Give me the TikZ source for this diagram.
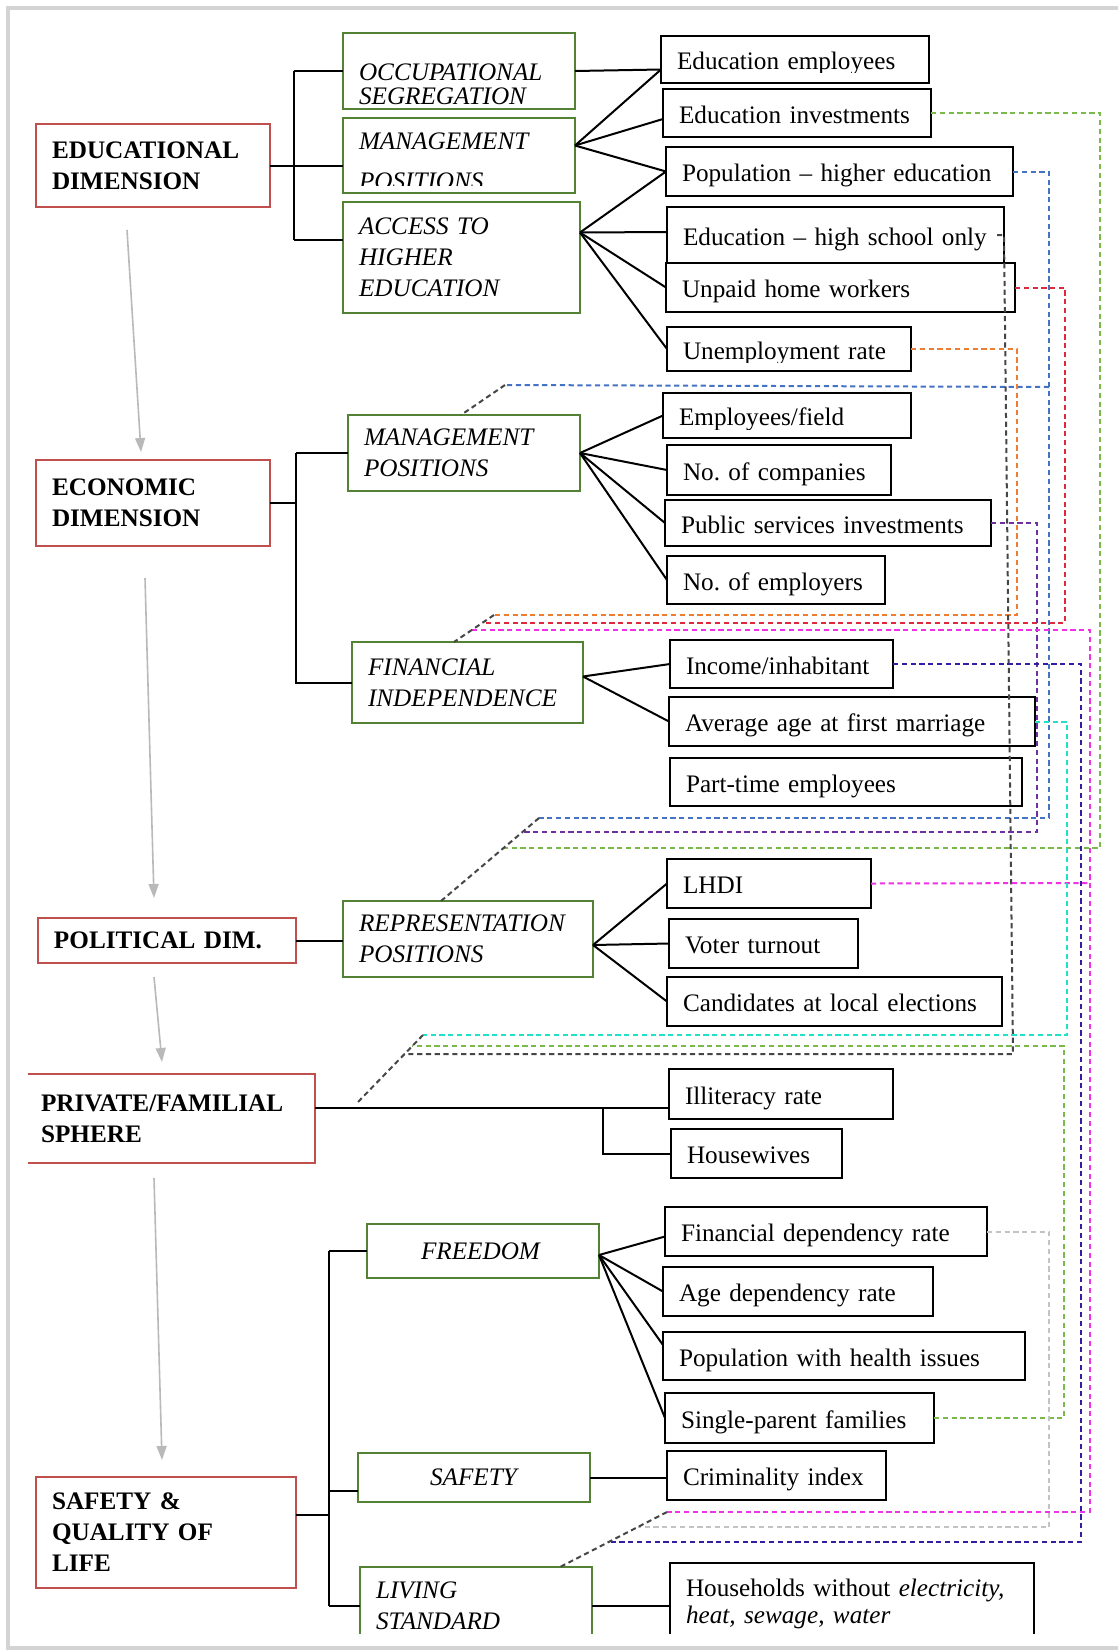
\documentclass[tikz,border=0pt]{standalone}
\usepackage{fontspec}
\setmainfont{Liberation Serif}
\usetikzlibrary{arrows.meta}
\definecolor{dimred}{RGB}{192,80,77}
\definecolor{catgreen}{RGB}{84,130,53}
\definecolor{frgray}{RGB}{212,212,212}
\definecolor{flgray}{RGB}{185,185,185}
\definecolor{cGreen}{RGB}{122,186,74}
\definecolor{cBlue}{RGB}{68,114,196}
\definecolor{cRed}{RGB}{222,40,60}
\definecolor{cOrange}{RGB}{237,125,49}
\definecolor{cDark}{RGB}{70,70,70}
\definecolor{cPurple}{RGB}{112,48,160}
\definecolor{cMagenta}{RGB}{240,50,230}
\definecolor{cIndigo}{RGB}{50,30,160}
\definecolor{cCyan}{RGB}{30,225,200}
\definecolor{cLight}{RGB}{195,195,195}
\newcommand\drawbox[7]{%
  \pgfmathsetmacro\bxw{(#4-#2)*0.5}%
  \pgfmathsetmacro\bxh{(#5-#3)*0.5}%
  \pgfmathsetmacro\bxt{(#4-#2)*0.5-16}%
  \node[#1, minimum width=\bxw pt, minimum height=\bxh pt, text width=\bxt pt] (#6) at ({(#2+#4)/2},{(#3+#5)/2}) {#7};}
\begin{document}
\begin{tikzpicture}[x=0.5pt,y=-0.5pt,
  base/.style={rectangle, inner xsep=8pt, inner ysep=0pt, outer sep=0pt, align=left, fill=white},
  dimbox/.style={base, draw=dimred, line width=1pt, font=\fontsize{12.6}{15.5}\selectfont\bfseries},
  dimopen/.style={base, draw=none, font=\fontsize{12.6}{15.5}\selectfont\bfseries},
  catbox/.style={base, draw=catgreen, line width=1pt, font=\fontsize{12.6}{15.5}\selectfont\itshape},
  indbox/.style={base, draw=black, line width=1.3pt, font=\fontsize{12.6}{15.5}\selectfont, text height=10pt, text depth=0pt},
  indtwo/.style={base, draw=black, line width=1.3pt, font=\fontsize{12.6}{13.5}\selectfont},
  link/.style={draw=black, line width=1pt},
  flow/.style={draw=flgray, line width=0.8pt, -{Triangle[width=5pt,length=7pt]}},
  dl/.style={line width=1pt, dash pattern=on 2.6pt off 1.8pt},
]
\useasboundingbox (0,0) rectangle (1118,1650);
\fill[white] (0,0) rectangle (1118,1650);
\draw[frgray, line width=2pt] (1130,8) -- (8,8) -- (8,1648) -- (1130,1648);

\begin{scope}
\clip (0,0) rectangle (1118,1633);
% ---------- dimension boxes ----------
\drawbox{dimbox}{36}{124}{270}{207}{eduDim}{EDUCATIONAL\\DIMENSION}
\drawbox{dimbox}{36}{460}{270}{546}{ecoDim}{ECONOMIC\\DIMENSION}
\drawbox{dimbox}{38}{918}{296}{963}{pol}{POLITICAL DIM.}
\drawbox{dimopen}{28}{1074}{315}{1163}{pri}{\hspace*{-1.5pt}PRIVATE/FAMILIAL\\\hspace*{-1.5pt}SPHERE}
\draw[dimred, line width=1pt] (pri.north west) -- (pri.north east) -- (pri.south east) -- (pri.south west);
\drawbox{dimbox}{36}{1477}{296}{1588}{sq}{SAFETY \&\\QUALITY OF\\LIFE}

% ---------- category boxes ----------
\drawbox{catbox, font=\fontsize{12.6}{12}\selectfont\itshape, text height=21pt, text depth=12pt}{343}{33}{575}{109}{occ}{OCCUPATIONAL\\SEGREGATION}
\drawbox{catbox, font=\fontsize{12.6}{20}\selectfont\itshape, text height=14pt, text depth=20pt}{343}{118}{575}{193}{mgmtE}{MANAGEMENT\\POSITIONS}
\drawbox{catbox}{343}{202}{580}{313}{acc}{ACCESS TO\\HIGHER\\EDUCATION}
\drawbox{catbox}{348}{415}{580}{491}{ecoMgmt}{MANAGEMENT\\POSITIONS}
\drawbox{catbox}{352}{642}{583}{723}{fin}{FINANCIAL\\INDEPENDENCE}
\drawbox{catbox}{343}{901}{593}{977}{rep}{REPRESENTATION\\POSITIONS}
\drawbox{catbox}{367}{1224}{599}{1278}{free}{\hspace*{19pt}FREEDOM}
\drawbox{catbox}{358}{1453}{590}{1502}{saf}{\hspace*{28pt}SAFETY}
\drawbox{catbox}{360}{1567}{592}{1645}{liv}{LIVING\\STANDARD}

% ---------- indicator boxes ----------
\drawbox{indbox}{661}{36}{929}{83}{edEmp}{Education employees}
\drawbox{indbox}{663}{89}{931}{137}{eInv}{Education investments}
\drawbox{indbox}{666}{147}{1013}{196}{popH}{Population -- higher education}
\drawbox{indbox}{667}{207}{1004}{263}{hs}{Education -- high school only}
\drawbox{indbox}{666}{263}{1015}{312}{unpaid}{Unpaid home workers}
\drawbox{indbox}{667}{327}{911}{371}{unemp}{Unemployment rate}
\drawbox{indbox}{663}{393}{911}{438}{empF}{Employees/field}
\drawbox{indbox}{667}{445}{891}{495}{comp}{No.\ of companies}
\drawbox{indbox}{665}{500}{991}{546}{pubS}{Public services investments}
\drawbox{indbox}{667}{556}{885}{604}{empl}{No.\ of employers}
\drawbox{indbox}{670}{640}{893}{688}{income}{Income/inhabitant}
\drawbox{indbox}{669}{697}{1035}{746}{avgA}{Average age at first marriage}
\drawbox{indbox}{670}{758}{1022}{806}{part}{Part-time employees}
\drawbox{indbox}{667}{859}{871}{908}{lhdi}{LHDI}
\drawbox{indbox}{669}{919}{858}{968}{voter}{Voter turnout}
\drawbox{indbox}{667}{977}{1002}{1026}{cand}{Candidates at local elections}
\drawbox{indbox}{669}{1069}{893}{1119}{illit}{Illiteracy rate}
\drawbox{indbox}{671}{1129}{842}{1178}{hw}{Housewives}
\drawbox{indbox}{665}{1207}{987}{1256}{finDep}{Financial dependency rate}
\drawbox{indbox}{663}{1267}{933}{1316}{ageDep}{Age dependency rate}
\drawbox{indbox}{663}{1332}{1025}{1380}{popHl}{Population with health issues}
\drawbox{indbox}{665}{1393}{934}{1443}{single}{Single-parent families}
\drawbox{indbox}{667}{1451}{886}{1500}{crim}{Criminality index}
\drawbox{indtwo}{670}{1563}{1034}{1645}{hh}{Households without \textit{electricity,}\\\textit{heat, sewage, water}}

% text cut-offs as in the reference
\fill[white] (345,186) rectangle (573,191.5);
\fill[white] (663,72.5) rectangle (927,81.5);
\fill[white] (669,362.5) rectangle (909,369.5);
\fill[white] (665,430) rectangle (909,436.5);

% ---------- solid connectors ----------
\coordinate (eb1) at (294,71);
\coordinate (eb3) at (294,240);
\draw[link] (eb1) -- (eb3);
\draw[link] (eb1) -- (eb1 -| occ.west);
\draw[link] (eb3) -- (eb3 -| acc.west);
\draw[link] (eduDim.east) -- (eduDim.east -| mgmtE.west);
\coordinate (eeIn) at ([yshift=-5pt]edEmp.west);
\draw[link] (occ.east) -- (eeIn);
\coordinate (mgEo) at ([yshift=5pt]mgmtE.east);
\draw[link] (mgEo) -- (eeIn);
\draw[link] (mgEo) -- ([yshift=-3pt]eInv.west);
\draw[link] (mgEo) -- (popH.west);
\coordinate (acO) at ([yshift=12.5pt]acc.east);
\draw[link] (acO) -- (popH.west);
\draw[link] (acO) -- ([yshift=1.5pt]hs.west);
\draw[link] (acO) -- (unpaid.west);
\draw[link] (acO) -- (unemp.west);

\coordinate (ebr) at (296,453);
\draw[link] (ecoDim.east) -- (ecoDim.east -| ebr);
\draw[link] (ebr) -- (ebr |- fin.west) -- (fin.west);
\draw[link] (ebr) -- (ebr -| ecoMgmt.west);
\draw[link] (ecoMgmt.east) -- (empF.west);
\draw[link] (ecoMgmt.east) -- (comp.west);
\draw[link] (ecoMgmt.east) -- (pubS.west);
\draw[link] (ecoMgmt.east) -- (empl.west);
\coordinate (fiO2) at ([yshift=3pt]fin.east);
\draw[link] (fiO2) -- (income.west);
\draw[link] (fiO2) -- (avgA.west);

\draw[link] (pol.east) -- (pol.east -| rep.west);
\coordinate (rpO) at ([yshift=-3pt]rep.east);
\draw[link] (rpO) -- (lhdi.west);
\draw[link] (rpO) -- (voter.west);
\draw[link] (rpO) -- (cand.west);

\coordinate (pvO) at ([yshift=5.5pt]pri.east);
\draw[link] (pvO) -- (pvO -| illit.west);
\coordinate (pvb) at (603,1107);
\draw[link] (pvb) |- (hw.west);

\coordinate (sb1) at (329,1251);
\coordinate (sb3) at (329,1606);
\draw[link] (sb1) -- (sb3);
\draw[link] (sb1) -- (sb1 -| free.west);
\draw[link] (sb3) -- (sb3 -| liv.west);
\coordinate (sqO) at ([yshift=8.75pt]sq.east);
\draw[link] (sqO) -- (sqO -| sb1);
\coordinate (sfI) at ([yshift=-6.75pt]saf.west);
\draw[link] (sfI -| sb1) -- (sfI);
\coordinate (frO) at ([yshift=-2pt]free.east);
\draw[link] (frO) -- ([yshift=-2.5pt]finDep.west);
\draw[link] (frO) -- (ageDep.west);
\draw[link] (frO) -- ([yshift=5.5pt]popHl.west);
\draw[link] (frO) -- (single.west);
\draw[link] (saf.east) -- (saf.east -| crim.west);
\draw[link] (liv.east) -- (liv.east -| hh.west);

% ---------- flow arrows ----------
\coordinate (a1s) at (127,230); \coordinate (a1e) at (141,452);
\coordinate (a2s) at (145,578); \coordinate (a2e) at (154,898);
\coordinate (a3s) at (154,977); \coordinate (a3e) at (162,1062);
\coordinate (a4s) at (154,1178); \coordinate (a4e) at (162,1460);
\draw[flow] (a1s) -- (a1e);
\draw[flow] (a2s) -- (a2e);
\draw[flow] (a3s) -- (a3e);
\draw[flow] (a4s) -- (a4e);

% ---------- dashed bundles ----------
\coordinate (mgB) at (505,385);  \coordinate (mgT) at (461,415);
\coordinate (fiO) at (494,615);  \coordinate (fiR) at (483,623);
\coordinate (fiM) at (472,630);  \coordinate (fiT) at (454,642);
\coordinate (rpB) at (539,818);  \coordinate (rpP) at (522,832);
\coordinate (rpG) at (503,848);  \coordinate (rpT) at (441,901);
\coordinate (pvC) at (423,1035); \coordinate (pvG) at (412,1046);
\coordinate (pvK) at (404,1054); \coordinate (pvT) at (357,1103);
\coordinate (lvM) at (667,1512); \coordinate (lvL) at (638,1527);
\coordinate (lvI) at (608,1542); \coordinate (lvT) at (560,1567);
\coordinate (bJ) at (1049,387);
\coordinate (mJ) at (1090,883);
\coordinate (gk) at (1013,1054);

\draw[dl, cGreen] (eInv.east) -| (1100,848) -- (rpG);
\draw[dl, cBlue] (popH.east) -| (1049,818) -- (rpB);
\draw[dl, cBlue] (bJ) -- (mgB);
\draw[dl, cRed] (unpaid.east) -| (1065,623) -- (fiR);
\draw[dl, cOrange] (unemp.east) -| (1017,615) -- (fiO);
\draw[dl, cDark] ([xshift=-3.5pt]hs.east) -- (hs.east) -- (gk) -- (pvK);
\draw[dl, cPurple] (pubS.east) -| (1037,832) -- (rpP);
\draw[dl, cMagenta] (fiM) -- (1090,630) -- (1090,1512) -- (lvM);
\draw[dl, cMagenta] (lhdi.east) -- (mJ);
\draw[dl, cIndigo] (income.east) -| (1081,1542) -- (lvI);
\draw[dl, cCyan] (avgA.east) -| (1067,1035) -- (pvC);
\draw[dl, cGreen] (single.east) -| (1064,1046) -- (pvG);
\draw[dl, cLight] (finDep.east) -| (1049,1527) -- (lvL);

\draw[dl, cDark] (mgB) -- (mgT);
\draw[dl, cDark] (fiO) -- (fiT);
\draw[dl, cDark] (rpB) -- (rpT);
\draw[dl, cDark] (pvC) -- (pvT);
\draw[dl, cDark] (lvM) -- (lvT);
\end{scope}
\end{tikzpicture}
\end{document}
